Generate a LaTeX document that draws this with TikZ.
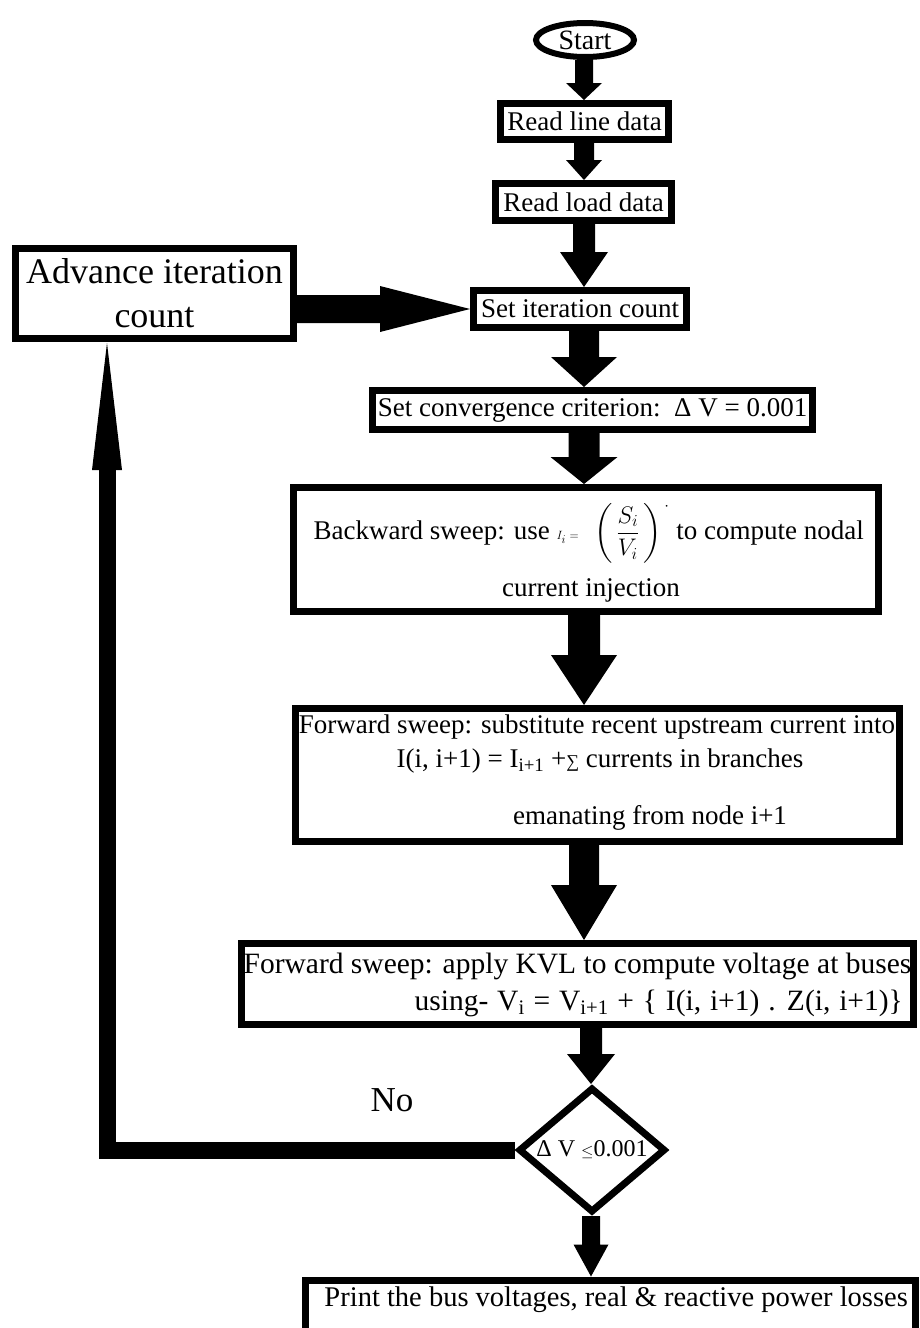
\RequirePackage{fix-cm}
\documentclass[tikz,border=0pt]{standalone}
\usepackage{fontspec}
\setmainfont{Liberation Serif}
\usepackage{amsmath}
\usetikzlibrary{calc,shapes.geometric}
\tikzset{
  box/.style={draw, line width=7pt, rectangle, inner sep=0pt, align=center, font=\fontsize{27}{32}\selectfont},
  txt/.style={inner sep=0pt, font=\fontsize{27}{32}\selectfont},
  loopline/.style={line width=17pt},
}
% #1 x-coordinate, #2 from node, #3 to node, #4 shaft half width, #5 head half width, #6 head length
\newcommand{\blockarr}[6]{%
  \fill[black] let \p1=(#1 |- #2.south), \p2=(#1 |- #3.north) in
    (\x1-#4pt,\y1) -- (\x1+#4pt,\y1) -- (\x1+#4pt,\y2+#6pt) -- (\x1+#5pt,\y2+#6pt)
    -- (\x1,\y2) -- (\x1-#5pt,\y2+#6pt) -- (\x1-#4pt,\y2+#6pt) -- cycle;}
\begin{document}
\begin{tikzpicture}[x=1pt,y=-1pt]
\fill[white] (0,0) rectangle (919,1328);
\useasboundingbox (0,0) rectangle (919,1328);
\clip (0,0) rectangle (919,1328);

% nodes
\node[ellipse, draw, line width=6pt, minimum width=98pt, minimum height=34pt, inner sep=0pt,
      font=\fontsize{28}{32}\selectfont] (start) at (585,40) {Start};
\node[box, minimum width=168pt, minimum height=36pt] (rl) at (584.5,121.5) {Read line data};
\node[box, minimum width=176pt, minimum height=37pt] (rd) at (583.5,202) {Read load data};
\node[box, minimum width=278pt, minimum height=90pt, font=\fontsize{36}{44}\selectfont] (adv) at (154.5,293.5) {Advance iteration\\count};
\node[box, minimum width=213pt, minimum height=37pt] (si) at (580,309) {Set iteration count};
\node[box, minimum width=440pt, minimum height=39pt] (cv) at (592.5,410) {Set convergence criterion:\ \ Δ V = 0.001};

\node[box, minimum width=585pt, minimum height=124pt] (bw) at (586,549.5) {};
\node[txt, anchor=east] (bw1) at (864,533) {Backward sweep: use
  {\fontsize{24}{28}\selectfont$\scriptscriptstyle I_{i}\;=\;$\hspace{12pt}$\left(\,\dfrac{S_{i}}{V_{i}}\,\right)^{\,\cdot}$}
  to compute nodal};
\node[txt] (bw2) at (591,590) {current injection};

\node[box, minimum width=604pt, minimum height=133pt] (f1) at (597.5,775) {};
\node[txt] (f1a) at (597,727) {Forward sweep: substitute recent upstream current into};
\node[txt] (f1b) at (600,761) {I(i, i+1) = I\textsubscript{i+1} +{\fontsize{18}{18}\selectfont ∑} currents in branches};
\node[txt] (f1c) at (650,818) {emanating from node i+1};

\node[box, minimum width=672pt, minimum height=81pt] (f2) at (577.5,984) {};
\node[txt, font=\fontsize{29.5}{34}\selectfont] (f2a) at (577.5,966) {Forward sweep: apply KVL to compute voltage at buses};
\node[txt, font=\fontsize{29.5}{34}\selectfont, anchor=east] (f2b) at (903,1003)
  {\spaceskip=0.3em using- V\textsubscript{i} = V\textsubscript{i+1} + \{ I(i, i+1) . Z(i, i+1)\}};

\node[diamond, draw, line width=7pt, minimum width=147pt, minimum height=125pt, inner sep=0pt,
      aspect=1.15, font=\fontsize{24}{28}\selectfont] (dm) at (592,1150) {Δ V {\fontsize{16}{16}\selectfont$\leq$}0.001};
\node[inner sep=0pt, font=\fontsize{35}{40}\selectfont] (no) at (392,1100) {No};

\node[box, minimum width=610.5pt, minimum height=150pt, anchor=north] (pr) at (610.25,1276.5) {};
\node[txt, font=\fontsize{28.5}{33}\selectfont, anchor=east] (prt) at (908,1300) {Print the bus voltages, real \& reactive power losses};

% spine coordinates
\coordinate (sp) at (584,0);
\coordinate (sp2) at (591,0);

% vertical block arrows
\blockarr{sp}{start}{rl}{9}{18}{17}
\blockarr{sp}{rl}{rd}{10}{18}{20}
\blockarr{sp}{rd}{si}{11}{24}{35}
\blockarr{sp}{si}{cv}{15}{33}{30}
\blockarr{sp}{cv}{bw}{15.5}{33.5}{27}
\blockarr{sp}{bw}{f1}{16}{33}{50}
\blockarr{sp}{f1}{f2}{15}{33}{55}
\blockarr{sp2}{f2}{dm}{11}{24}{30}
\blockarr{sp2}{dm}{pr}{9}{17.5}{32}

% horizontal arrow advance -> set iteration
\fill[black] let \p1=(adv.east |- si.west), \p2=(si.west) in
  (\x1,\y1+14pt) -- (\x2-90pt,\y1+14pt) -- (\x2-90pt,\y1+23pt) -- (\x2,\y2)
  -- (\x2-90pt,\y1-23pt) -- (\x2-90pt,\y1-14pt) -- (\x1,\y1-14pt) -- cycle;

% loop back (No)
\coordinate (looptip) at (107,343);
\coordinate (loopbase) at (107,470);
\draw[loopline] (dm.west) -| (loopbase);
\fill[black] (looptip) -- ($(loopbase)+(15,0)$) -- ($(loopbase)+(-15,0)$) -- cycle;
\end{tikzpicture}
\end{document}
